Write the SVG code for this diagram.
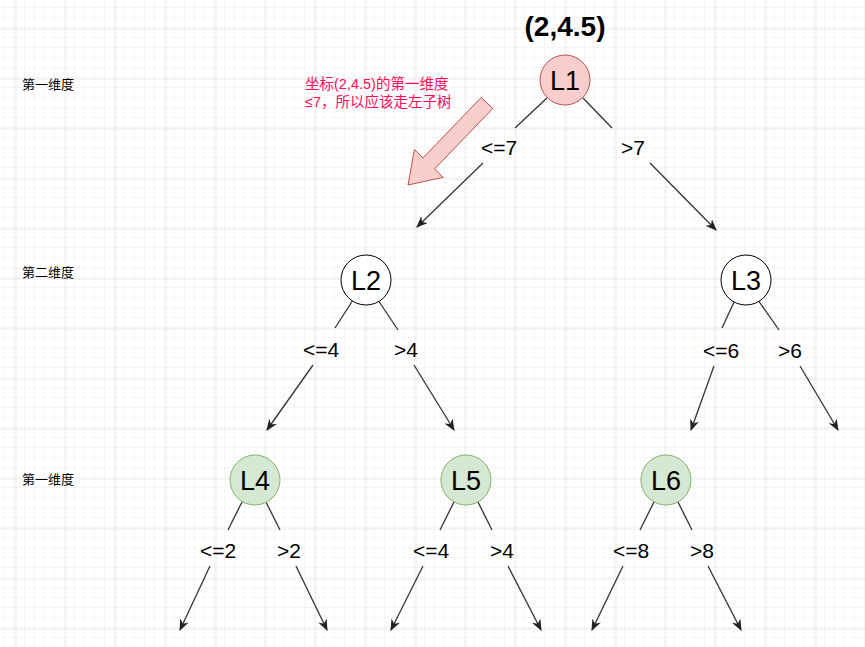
<svg xmlns="http://www.w3.org/2000/svg" width="865" height="647" viewBox="0 0 865 647">
<defs>
<pattern id="minor" width="10" height="10" patternUnits="userSpaceOnUse" x="5" y="8"><path d="M10 0V10M0 10H10" fill="none" stroke="#ebebeb" stroke-width="1"/></pattern>
<pattern id="major" width="50" height="50" patternUnits="userSpaceOnUse" x="15.5" y="28.5"><path d="M0 0V50M0 0H50" fill="none" stroke="#d8d8d8" stroke-width="1"/></pattern>
<marker id="ah" viewBox="0 0 10 10" refX="9" refY="5" markerWidth="9" markerHeight="9" orient="auto"><path d="M0 1L10 5L0 9L3 5Z" fill="#222"/></marker>
</defs>
<style>
.n circle{stroke-width:1}
.w{fill:#fff;stroke:#000}
.r{fill:#f8cecc;stroke:#b85450}
.g{fill:#d5e8d4;stroke:#82b366}
.nt{font-family:"Liberation Sans",Arial,sans-serif;font-size:27px;text-anchor:middle;fill:#000}
.el{font-family:"Liberation Sans",Arial,sans-serif;font-size:21px;text-anchor:middle;fill:#000}
.side{font-family:"Liberation Sans","Noto Sans CJK SC",sans-serif;font-size:13px;fill:#000}
#edges line{stroke:#333;stroke-width:1.3}
#edges line.a{marker-end:url(#ah)}
</style>
<rect width="865" height="647" fill="#fff"/>
<rect width="865" height="647" fill="url(#minor)"/>
<rect width="865" height="647" fill="url(#major)"/>
<text class="side" x="22" y="89">第一维度</text>
<text class="side" x="22" y="277">第二维度</text>
<text class="side" x="22" y="484">第一维度</text>
<text x="565" y="36" font-family="Liberation Sans,Arial,sans-serif" font-size="28" font-weight="bold" text-anchor="middle">(2,4.5)</text>
<g id="note">
<text font-family="Liberation Sans,'Noto Sans CJK SC',sans-serif" font-size="14.5" fill="#ff0a54"><tspan x="305" y="89">坐标(2,4.5)的第一维度</tspan><tspan x="305" y="107">≤7，所以应该走左子树</tspan></text>
<polygon points="481.2,97.5 423,157.9 414.4,149.5 408,185 443.2,177.3 434.6,168.9 492.8,108.5" fill="#f8cecc" stroke="#b85450"/>
</g>
<g id="edges">
<line x1="547" y1="98" x2="515" y2="128"/><line class="a" x1="483" y1="163" x2="417" y2="227"/>
<line x1="583" y1="98" x2="612" y2="128"/><line class="a" x1="650" y1="163" x2="716" y2="230"/>
<line x1="353" y1="300" x2="335" y2="328"/><line class="a" x1="313" y1="365" x2="267" y2="430"/>
<line x1="378" y1="300" x2="398" y2="330"/><line class="a" x1="414" y1="365" x2="454" y2="430"/>
<line x1="735" y1="300" x2="722" y2="328"/><line class="a" x1="714" y1="366" x2="691" y2="430"/>
<line x1="758" y1="300" x2="779" y2="330"/><line class="a" x1="800" y1="366" x2="838" y2="430"/>
<line x1="243" y1="500" x2="228" y2="530"/><line class="a" x1="210" y1="566" x2="180" y2="630"/>
<line x1="265" y1="500" x2="280" y2="530"/><line class="a" x1="296" y1="566" x2="327" y2="630"/>
<line x1="455" y1="500" x2="440" y2="530"/><line class="a" x1="423" y1="566" x2="391" y2="630"/>
<line x1="477" y1="500" x2="492" y2="530"/><line class="a" x1="508" y1="566" x2="541" y2="630"/>
<line x1="655" y1="500" x2="640" y2="530"/><line class="a" x1="623" y1="566" x2="592" y2="630"/>
<line x1="677" y1="500" x2="692" y2="530"/><line class="a" x1="708" y1="566" x2="741" y2="630"/>
<text class="el" x="499" y="155">&lt;=7</text><text class="el" x="633" y="155">&gt;7</text>
<text class="el" x="321" y="357">&lt;=4</text><text class="el" x="406" y="357">&gt;4</text>
<text class="el" x="721" y="358">&lt;=6</text><text class="el" x="790" y="358">&gt;6</text>
<text class="el" x="218" y="558">&lt;=2</text><text class="el" x="289" y="558">&gt;2</text>
<text class="el" x="431" y="558">&lt;=4</text><text class="el" x="502" y="558">&gt;4</text>
<text class="el" x="631" y="558">&lt;=8</text><text class="el" x="702" y="558">&gt;8</text>
</g>
<g id="L1" class="n"><circle class="r" cx="565" cy="80" r="25"/><text class="nt" x="565" y="90">L1</text></g>
<g id="L2" class="n"><circle class="w" cx="366" cy="280" r="25"/><text class="nt" x="366" y="290">L2</text></g>
<g id="L3" class="n"><circle class="w" cx="746" cy="280" r="25"/><text class="nt" x="746" y="290">L3</text></g>
<g id="L4" class="n"><circle class="g" cx="255" cy="480" r="25"/><text class="nt" x="255" y="490">L4</text></g>
<g id="L5" class="n"><circle class="g" cx="466" cy="480" r="25"/><text class="nt" x="466" y="490">L5</text></g>
<g id="L6" class="n"><circle class="g" cx="666" cy="480" r="25"/><text class="nt" x="666" y="490">L6</text></g>
</svg>
